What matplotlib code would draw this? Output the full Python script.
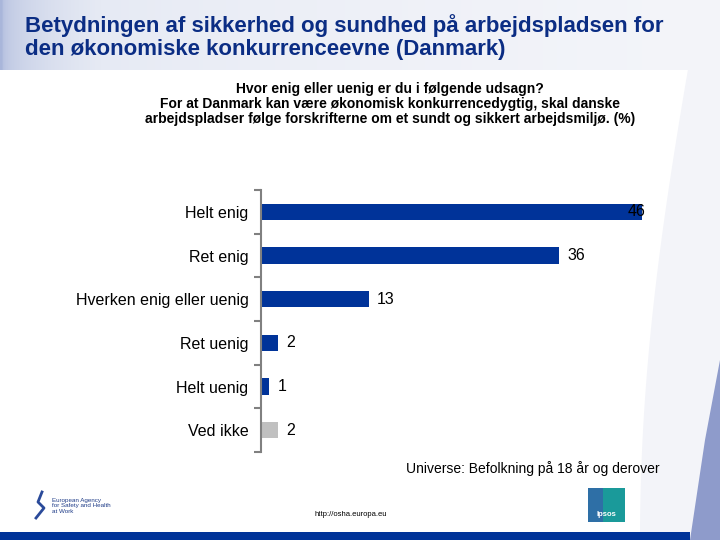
import matplotlib.pyplot as plt
import numpy as np
from matplotlib.patches import Rectangle, Polygon
from matplotlib.colors import LinearSegmentedColormap

plt.rcParams['font.family'] = ['Liberation Sans', 'DejaVu Sans']

categories = ["Helt enig", "Ret enig", "Hverken enig eller uenig",
              "Ret uenig", "Helt uenig", "Ved ikke"]
values = [46, 36, 13, 2, 1, 2]
bar_colors = ["#003399"] * 5 + ["#C0C0C0"]

title = ("Betydningen af sikkerhed og sundhed på arbejdspladsen for\n"
         "den økonomiske konkurrenceevne (Danmark)")
question = ("Hvor enig eller uenig er du i følgende udsagn?\n"
            "For at Danmark kan være økonomisk konkurrencedygtig, skal danske\n"
            "arbejdspladser følge forskrifterne om et sundt og sikkert arbejdsmiljø. (%)")
universe = "Universe: Befolkning på 18 år og derover"

fig = plt.figure(figsize=(7.2, 5.4), dpi=100)

# background decorations
bg = fig.add_axes([0, 0, 1, 1], zorder=-10)
bg.set_xlim(0, 720)
bg.set_ylim(540, 0)
bg.axis("off")
grad = np.linspace(0, 1, 256)[None, :] ** 0.35
cmap = LinearSegmentedColormap.from_list("g", ["#A9B6DA", "#E6EAF4", "#F4F5FA"])
bg.imshow(grad, extent=[0, 720, 70, 0], cmap=cmap, aspect="auto")
t = np.linspace(0, 1, 60)
right = Polygon(np.column_stack([np.r_[720, 720, 700 - 60 * np.sin(np.pi * t * 0.5)[::-1]],
                                 np.r_[0, 540, (540 * t)[::-1]]]),
                closed=True, color="#F3F4F9", lw=0)
bg.add_patch(right)
right2 = Polygon([[720, 360], [720, 540], [690, 540], [705, 440]], closed=True, color="#8E9BCB", lw=0)
bg.add_patch(right2)
bg.add_patch(Rectangle((0, 532), 690, 8, color="#003399", lw=0))

fig.text(25 / 720, 1 - 37 / 540, title, fontsize=16, fontweight="bold",
         color="#0B2D84", ha="left", va="center", linespacing=1.15)
fig.text(390 / 720, 1 - 104 / 540, question, fontsize=10, fontweight="bold",
         ha="center", va="center", linespacing=1.12)
fig.text(660 / 720, 1 - 469 / 540, universe, fontsize=10, ha="right", va="center")
fig.text(351 / 720, 1 - 515 / 540, "http://osha.europa.eu", fontsize=5.5, ha="center", va="center")
fig.text(52 / 720, 1 - 506 / 540, "European Agency\nfor Safety and Health\nat Work",
         fontsize=4.5, color="#1F3C88", ha="left", va="center", linespacing=1.1)
bg.add_patch(Rectangle((588, 488), 37, 34, color="#2E6FA6", lw=0))
bg.add_patch(Rectangle((603, 488), 22, 34, color="#1A9A9A", lw=0))
bg.text(606, 514, "Ipsos", fontsize=5.5, color="white", fontweight="bold", ha="center", va="center")
bg.plot([42, 38, 44, 36], [492, 502, 508, 518], color="#2A4A9A", lw=2)

# chart
ax = fig.add_axes([261 / 720, 1 - 452 / 540, 381 / 720, 262 / 540])
y = np.arange(len(categories))
ax.barh(y, values, height=0.37, color=bar_colors)
ax.set_xlim(0, 46)
ax.set_ylim(len(categories) - 0.5, -0.5)
ax.set_yticks(y)
ax.set_yticklabels(categories, fontsize=11.5)
ax.set_yticks(np.arange(-0.5, len(categories)), minor=True)
ax.tick_params(axis="y", which="major", length=0, pad=9)
ax.tick_params(axis="y", which="minor", length=5, color="#808080", width=1.5)
ax.set_xticks([])
for s in ["top", "right", "bottom"]:
    ax.spines[s].set_visible(False)
ax.spines["left"].set_color("#808080")
ax.spines["left"].set_linewidth(1.5)
ax.patch.set_alpha(0)

for i, v in enumerate(values):
    if v == max(values):
        ax.text(v + 0.4, i, str(v), ha="right", va="center", fontsize=11.5, clip_on=False)
    else:
        ax.text(v + 1.0, i, str(v), ha="left", va="center", fontsize=11.5, clip_on=False)

plt.savefig("out.png", dpi=100)
